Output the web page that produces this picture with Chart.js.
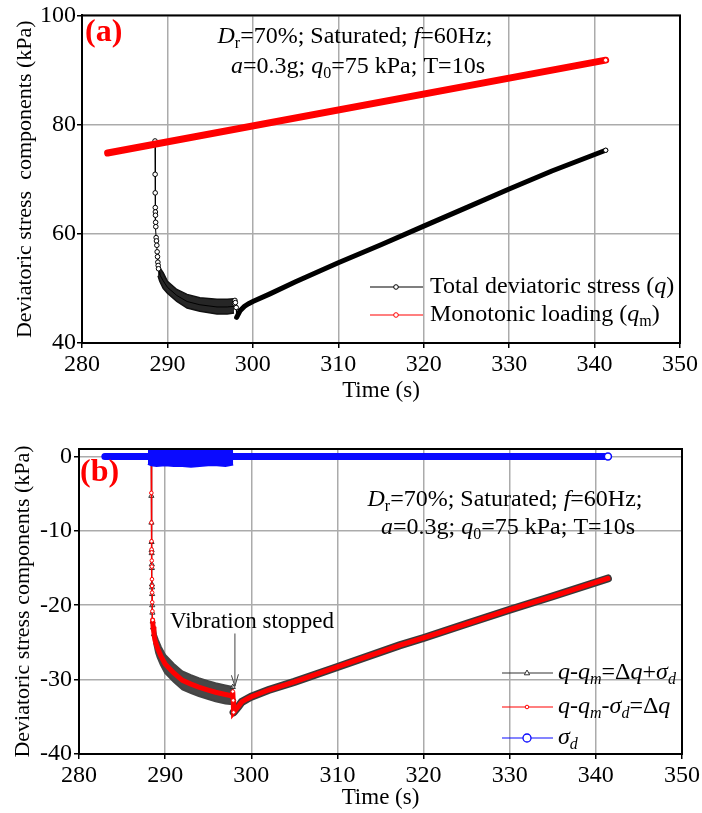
<!DOCTYPE html>
<html>
<head>
<meta charset="utf-8">
<script src="https://cdn.jsdelivr.net/npm/chart.js"></script>
<style>
  body { margin: 0; background: #fff; }
  #wrap { position: relative; width: 702px; height: 813px; }
  #chartA { position: absolute; left: 0; top: 0; }
  #chartB { position: absolute; left: 0; top: 410px; }
</style>
</head>
<body>
<div id="wrap">
  <canvas id="chartA" width="702" height="410"></canvas>
  <canvas id="chartB" width="702" height="403"></canvas>
</div>
<script>
// ---------- tick labels ----------
var timeTicks = [280, 290, 300, 310, 320, 330, 340, 350];
var yTicksA = [40, 60, 80, 100];
var yTicksB = [-40, -30, -20, -10, 0];

// ---------- panel (a) data ----------
var monoTime = [283.0, 341.3];
var monoQ = [74.8, 91.8];

var qTime = [283.0, 288.5, 288.55, 288.56, 288.57, 288.58, 288.59, 288.60, 288.62, 288.64, 288.68, 288.72,
  288.76, 288.80, 288.84, 288.88, 288.92, 288.96, 289.05, 289.1, 289.5, 290.0, 291.1, 292.3, 293.8, 295.8,
  297.0, 297.7, 297.85, 297.9, 297.95, 298.05, 298.1, 298.5, 299.0, 299.5, 300.0, 302.0, 305.0, 310.0,
  315.0, 320.0, 325.0, 330.0, 335.0, 341.3];
var qVal = [74.9, 76.5, 77.0, 70.9, 67.5, 64.8, 64.0, 63.4, 62.1, 61.3, 59.3, 58.7,
  57.9, 56.7, 55.8, 54.8, 54.2, 53.6, 53.0, 52.5, 51.4, 50.2, 48.7, 47.6, 47.0, 46.6,
  46.6, 46.7, 47.2, 47.8, 47.4, 46.5, 44.7, 45.9, 46.7, 47.2, 47.6, 49.0, 51.2, 54.7,
  58.0, 61.4, 64.8, 68.2, 71.5, 75.3];

// spread of the vibrating part (upper / lower edge of the dark band)
var qBandTime = [288.9, 289.1, 289.5, 290.0, 291.1, 292.3, 293.8, 295.8, 297.0, 297.8];
var qBandHigh = [54.2, 53.8, 52.9, 51.3, 49.8, 48.9, 48.3, 48.0, 48.0, 48.1];
var qBandLow = [52.3, 51.3, 50.0, 49.1, 47.6, 46.4, 45.8, 45.3, 45.3, 45.5];

// ---------- panel (b) data ----------
var sigmaTime = [283.0, 288.0, 297.9, 341.4];
var sigmaVal = [0.0, 0.0, 0.0, 0.0];
var sigmaBandTime = [288.0, 288.4, 289.0, 290.0, 291.0, 292.0, 293.0, 294.0, 295.0, 296.0, 297.0, 297.9];
var sigmaBandHigh = [1.0, 1.2, 1.3, 1.3, 1.3, 1.4, 1.3, 1.2, 1.2, 1.3, 1.2, 1.1];
var sigmaBandLow = [-1.0, -1.2, -1.3, -1.2, -1.3, -1.3, -1.4, -1.3, -1.2, -1.2, -1.3, -1.1];

var dqTime = [283.0, 288.38, 288.40, 288.41, 288.42, 288.43, 288.44, 288.45, 288.46, 288.47, 288.48, 288.49,
  288.50, 288.52, 288.55, 288.6, 288.7, 288.8, 288.95, 289.13, 289.5, 290.0, 291.0, 292.0, 293.0, 293.9,
  295.0, 295.85, 297.0, 297.8, 297.85, 297.9, 297.95, 298.5, 298.9, 299.5, 300.0, 302.0, 305.0, 310.0,
  317.2, 320.0, 325.0, 330.0, 335.0, 341.4];
var dqVal = [0.0, 0.0, -4.9, -8.9, -11.4, -12.5, -12.9, -14.0, -14.8, -16.5, -17.4, -18.3,
  -19.6, -20.8, -22.0, -22.9, -23.8, -24.6, -25.2, -25.8, -26.8, -27.9, -29.1, -30.1, -30.6, -31.0,
  -31.4, -31.7, -32.0, -32.2, -31.6, -32.8, -34.4, -33.6, -33.0, -32.6, -32.3, -31.4, -30.3, -28.3,
  -25.4, -24.4, -22.5, -20.6, -18.8, -16.4];
var qqmVal = [0.0, 0.0, -5.3, -8.9, -11.5, -12.6, -13.0, -14.5, -15.0, -17.2, -17.6, -18.5,
  -20.0, -21.0, -22.2, -23.0, -23.9, -24.7, -25.3, -25.9, -26.9, -28.0, -29.1, -30.1, -30.7, -31.1,
  -31.5, -31.8, -32.1, -32.3, -31.0, -32.6, -34.4, -33.6, -33.0, -32.6, -32.3, -31.4, -30.3, -28.3,
  -25.4, -24.4, -22.5, -20.6, -18.8, -16.4];
var qqmBandTime = [288.7, 288.95, 289.13, 289.5, 290.0, 291.0, 292.0, 293.0, 293.9, 295.0, 295.85, 297.0, 297.85];
var qqmBandHigh = [-22.6, -24.0, -24.6, -25.6, -26.7, -27.9, -28.9, -29.4, -29.8, -30.2, -30.5, -30.8, -31.0];
var qqmBandLow = [-25.0, -26.4, -27.0, -28.0, -29.1, -30.3, -31.3, -31.8, -32.2, -32.6, -32.9, -33.2, -33.3];

var FONT = '"Liberation Serif", "Times New Roman", serif';
var RED = '#ff0000', BLUE = '#0a0aff';

function pts(xs, ys) {
  return xs.map(function (x, i) { return { x: x, y: ys[i] }; });
}

// draw text made of runs: [text, style], style '' / 'i' / 's' / 'is'
function rich(ctx, runs, x, y, size, align) {
  var parts = runs.map(function (r) {
    var sub = r[1].indexOf('s') >= 0;
    var it = r[1].indexOf('i') >= 0;
    var sz = sub ? Math.round(size * 0.68) : size;
    var font = (it ? 'italic ' : '') + sz + 'px ' + FONT;
    ctx.font = font;
    return { text: r[0], font: font, sub: sub, w: ctx.measureText(r[0]).width };
  });
  var total = parts.reduce(function (a, p) { return a + p.w; }, 0);
  var cx = align === 'center' ? x - total / 2 : x;
  ctx.textBaseline = 'middle';
  ctx.textAlign = 'left';
  ctx.fillStyle = '#000';
  parts.forEach(function (p) {
    ctx.font = p.font;
    ctx.fillText(p.text, cx, p.sub ? y + size * 0.3 : y);
    cx += p.w;
  });
}

function circle(ctx, x, y, r, color, lw) {
  ctx.beginPath();
  ctx.arc(x, y, r, 0, Math.PI * 2);
  ctx.fillStyle = '#fff';
  ctx.fill();
  ctx.lineWidth = lw || 1;
  ctx.strokeStyle = color;
  ctx.stroke();
}

function triangle(ctx, x, y, r, color) {
  ctx.beginPath();
  ctx.moveTo(x, y - r);
  ctx.lineTo(x + r * 0.9, y + r * 0.6);
  ctx.lineTo(x - r * 0.9, y + r * 0.6);
  ctx.closePath();
  ctx.fillStyle = '#fff';
  ctx.fill();
  ctx.lineWidth = 1;
  ctx.strokeStyle = color;
  ctx.stroke();
}

function legLine(ctx, x0, x1, y, color) {
  ctx.beginPath();
  ctx.moveTo(x0, y);
  ctx.lineTo(x1, y);
  ctx.lineWidth = 1.2;
  ctx.strokeStyle = color;
  ctx.stroke();
}

function frame(chart) {
  var a = chart.chartArea, ctx = chart.ctx;
  ctx.save();
  ctx.lineWidth = 2;
  ctx.strokeStyle = '#000';
  ctx.strokeRect(a.left, a.top, a.right - a.left, a.bottom - a.top);
  ctx.restore();
}

function axisX(fitHeight, titlePad) {
  return {
    type: 'linear', min: 280, max: 350,
    ticks: { color: '#000', font: { family: FONT, size: 24 }, padding: 2, maxRotation: 0 },
    afterBuildTicks: function (s) { s.ticks = timeTicks.map(function (v) { return { value: v }; }); },
    grid: { color: '#ababab', lineWidth: 1.5, tickColor: '#000', tickLength: 5, tickWidth: 1.5 },
    border: { color: '#000', width: 2 },
    title: { display: true, text: 'Time (s)', color: '#000', font: { family: FONT, size: 23 },
      padding: { top: 0, bottom: titlePad } },
    afterFit: function (s) { s.height = fitHeight; }
  };
}

function axisY(min, max, tickList, title, fitWidth, titlePad, tickPad) {
  return {
    min: min, max: max,
    ticks: { color: '#000', font: { family: FONT, size: 24 }, padding: tickPad },
    afterBuildTicks: function (s) { s.ticks = tickList.map(function (v) { return { value: v }; }); },
    grid: { color: '#ababab', lineWidth: 1.5, tickColor: '#000', tickLength: 5, tickWidth: 1.5 },
    border: { color: '#000', width: 2 },
    title: { display: true, text: title, color: '#000', font: { family: FONT, size: 22 },
      padding: { top: titlePad, bottom: 0 } },
    afterFit: function (s) { s.width = fitWidth; }
  };
}

var common = {
  responsive: false,
  animation: false,
  devicePixelRatio: 1,
  events: [],
  plugins: { legend: { display: false }, tooltip: { enabled: false } }
};

var inRange = function (t, a, b) { return t >= a - 1e-9 && t <= b + 1e-9; };

// ---------- chart (a) ----------
new Chart(document.getElementById('chartA'), {
  type: 'line',
  data: {
    datasets: [
      {
        data: pts(monoTime, monoQ), borderColor: RED, borderWidth: 7, borderCapStyle: 'round',
        pointRadius: function (c) { return c.dataIndex === monoTime.length - 1 ? 2.2 : 0; },
        pointBackgroundColor: '#fff', pointBorderColor: RED, pointBorderWidth: 1
      },
      {
        data: pts(qTime, qVal), borderColor: '#000', borderWidth: 1,
        pointRadius: function (c) {
          var t = qTime[c.dataIndex];
          if (c.dataIndex === qTime.length - 1) return 2.2;
          if (inRange(t, 288.55, 288.97) || inRange(t, 297.85, 298.05)) return 2.3;
          return 0;
        },
        pointBackgroundColor: '#fff', pointBorderColor: '#000', pointBorderWidth: 1
      },
      {
        data: pts(qTime, qVal).filter(function (p) { return p.x >= 298.1; }),
        borderColor: '#000', borderWidth: 5, borderCapStyle: 'round', pointRadius: 0
      },
      {
        data: pts(qBandTime, qBandLow), borderColor: '#111', borderWidth: 1.5, pointRadius: 0, fill: false
      },
      {
        data: pts(qBandTime, qBandHigh), borderColor: '#111', borderWidth: 1.5, pointRadius: 0,
        fill: '-1', backgroundColor: '#262626'
      }
    ]
  },
  options: Object.assign({}, common, {
    layout: { padding: { top: 13, right: 22, left: 0, bottom: 0 } },
    scales: {
      x: axisX(67, 5),
      y: axisY(40, 100, yTicksA, 'Deviatoric stress  components (kPa)', 82, 12, 1)
    }
  }),
  plugins: [{
    id: 'decorA',
    afterDraw: function (chart) {
      var ctx = chart.ctx;
      frame(chart);
      ctx.save();
      ctx.font = 'bold 32px ' + FONT;
      ctx.fillStyle = RED;
      ctx.textBaseline = 'middle';
      ctx.textAlign = 'left';
      ctx.fillText('(a)', 85, 33);
      rich(ctx, [['D', 'i'], ['r', 's'], ['=70%; Saturated; ', ''], ['f', 'i'], ['=60Hz;', '']], 355, 37, 24, 'center');
      rich(ctx, [['a', 'i'], ['=0.3g; ', ''], ['q', 'i'], ['0', 's'], ['=75 kPa; T=10s', '']], 358, 67, 24, 'center');
      // legend
      legLine(ctx, 370, 423, 287, '#000');
      circle(ctx, 396, 287, 2.3, '#000');
      rich(ctx, [['Total deviatoric stress (', ''], ['q', 'i'], [')', '']], 430, 287, 24, 'left');
      legLine(ctx, 370, 423, 315, RED);
      circle(ctx, 396, 315, 2.3, RED);
      rich(ctx, [['Monotonic loading (', ''], ['q', 'i'], ['m', 's'], [')', '']], 430, 315, 24, 'left');
      ctx.restore();
    }
  }]
});

// ---------- chart (b) ----------
new Chart(document.getElementById('chartB'), {
  type: 'line',
  data: {
    datasets: [
      {
        data: pts(sigmaTime, sigmaVal), borderColor: BLUE, borderWidth: 7, borderCapStyle: 'round',
        pointRadius: function (c) { return c.dataIndex === sigmaTime.length - 1 ? 3.5 : 0; },
        pointBackgroundColor: '#fff', pointBorderColor: BLUE, pointBorderWidth: 1.5
      },
      {
        data: pts(sigmaBandTime, sigmaBandLow), borderColor: BLUE, borderWidth: 2, pointRadius: 0, fill: false
      },
      {
        data: pts(sigmaBandTime, sigmaBandHigh), borderColor: BLUE, borderWidth: 2, pointRadius: 0,
        fill: '-1', backgroundColor: BLUE
      },
      {
        data: pts(dqTime, dqVal), borderColor: RED, borderWidth: 1.3,
        pointRadius: function (c) {
          var t = dqTime[c.dataIndex];
          return (inRange(t, 288.40, 288.55) || inRange(t, 297.85, 297.95)) ? 1.8 : 0;
        },
        pointBackgroundColor: '#fff', pointBorderColor: RED, pointBorderWidth: 1
      },
      {
        data: pts(dqTime, dqVal).filter(function (p) { return p.x >= 288.55; }),
        borderColor: RED, borderWidth: 5, borderCapStyle: 'round', pointRadius: 0
      },
      {
        data: pts(dqTime, qqmVal), borderColor: '#333', borderWidth: 1,
        pointStyle: 'triangle',
        pointRadius: function (c) {
          var t = dqTime[c.dataIndex];
          return (inRange(t, 288.40, 288.7) || inRange(t, 297.85, 297.9)) ? 3 : 0;
        },
        pointBackgroundColor: 'rgba(255,255,255,0.3)', pointBorderColor: '#333', pointBorderWidth: 1
      },
      {
        data: pts(dqTime, qqmVal).filter(function (p) { return p.x >= 297.95; }),
        borderColor: '#3a3a3a', borderWidth: 8, borderCapStyle: 'round', pointRadius: 0
      },
      {
        data: pts(qqmBandTime, qqmBandLow), borderColor: '#444', borderWidth: 2, pointRadius: 0, fill: false
      },
      {
        data: pts(qqmBandTime, qqmBandHigh), borderColor: '#444', borderWidth: 2, pointRadius: 0,
        fill: '-1', backgroundColor: '#484848'
      }
    ]
  },
  options: Object.assign({}, common, {
    layout: { padding: { top: 39, right: 15, left: 0, bottom: 0 } },
    scales: {
      x: axisX(59, 1),
      y: axisY(-40, 1, yTicksB, 'Deviatoric stress components (kPa)', 79, 10, 2)
    }
  }),
  plugins: [{
    id: 'decorB',
    afterDraw: function (chart) {
      var ctx = chart.ctx, xs = chart.scales.x, ys = chart.scales.y;
      frame(chart);
      ctx.save();
      ctx.font = 'bold 32px ' + FONT;
      ctx.fillStyle = RED;
      ctx.textBaseline = 'middle';
      ctx.textAlign = 'left';
      ctx.fillText('(b)', 80, 63);
      rich(ctx, [['D', 'i'], ['r', 's'], ['=70%; Saturated; ', ''], ['f', 'i'], ['=60Hz;', '']], 505, 90, 24, 'center');
      rich(ctx, [['a', 'i'], ['=0.3g; ', ''], ['q', 'i'], ['0', 's'], ['=75 kPa; T=10s', '']], 508, 118, 24, 'center');
      // vibration stopped note
      rich(ctx, [['Vibration stopped', '']], 252, 212, 23, 'center');
      var ax = xs.getPixelForValue(298.1), ay0 = ys.getPixelForValue(-23.8), ay1 = ys.getPixelForValue(-30.9);
      ctx.beginPath();
      ctx.moveTo(ax, ay0);
      ctx.lineTo(ax, ay1);
      ctx.moveTo(ax - 3.5, ay1 - 11);
      ctx.lineTo(ax, ay1);
      ctx.lineTo(ax + 3.5, ay1 - 12);
      ctx.lineWidth = 1;
      ctx.strokeStyle = '#444';
      ctx.stroke();
      // legend
      legLine(ctx, 502, 553, 263, '#333');
      triangle(ctx, 527, 263, 3, '#333');
      rich(ctx, [['q', 'i'], ['-', ''], ['q', 'i'], ['m', 'is'], ['=\u0394', ''], ['q', 'i'], ['+', ''], ['\u03c3', 'i'], ['d', 'is']], 558, 263, 24, 'left');
      legLine(ctx, 502, 553, 297, RED);
      circle(ctx, 527, 297, 1.8, RED);
      rich(ctx, [['q', 'i'], ['-', ''], ['q', 'i'], ['m', 'is'], ['-', ''], ['\u03c3', 'i'], ['d', 'is'], ['=\u0394', ''], ['q', 'i']], 558, 297, 24, 'left');
      legLine(ctx, 502, 553, 328, BLUE);
      circle(ctx, 527, 328, 4, BLUE, 1.3);
      rich(ctx, [['\u03c3', 'i'], ['d', 'is']], 558, 328, 24, 'left');
      ctx.restore();
    }
  }]
});
</script>
</body>
</html>
